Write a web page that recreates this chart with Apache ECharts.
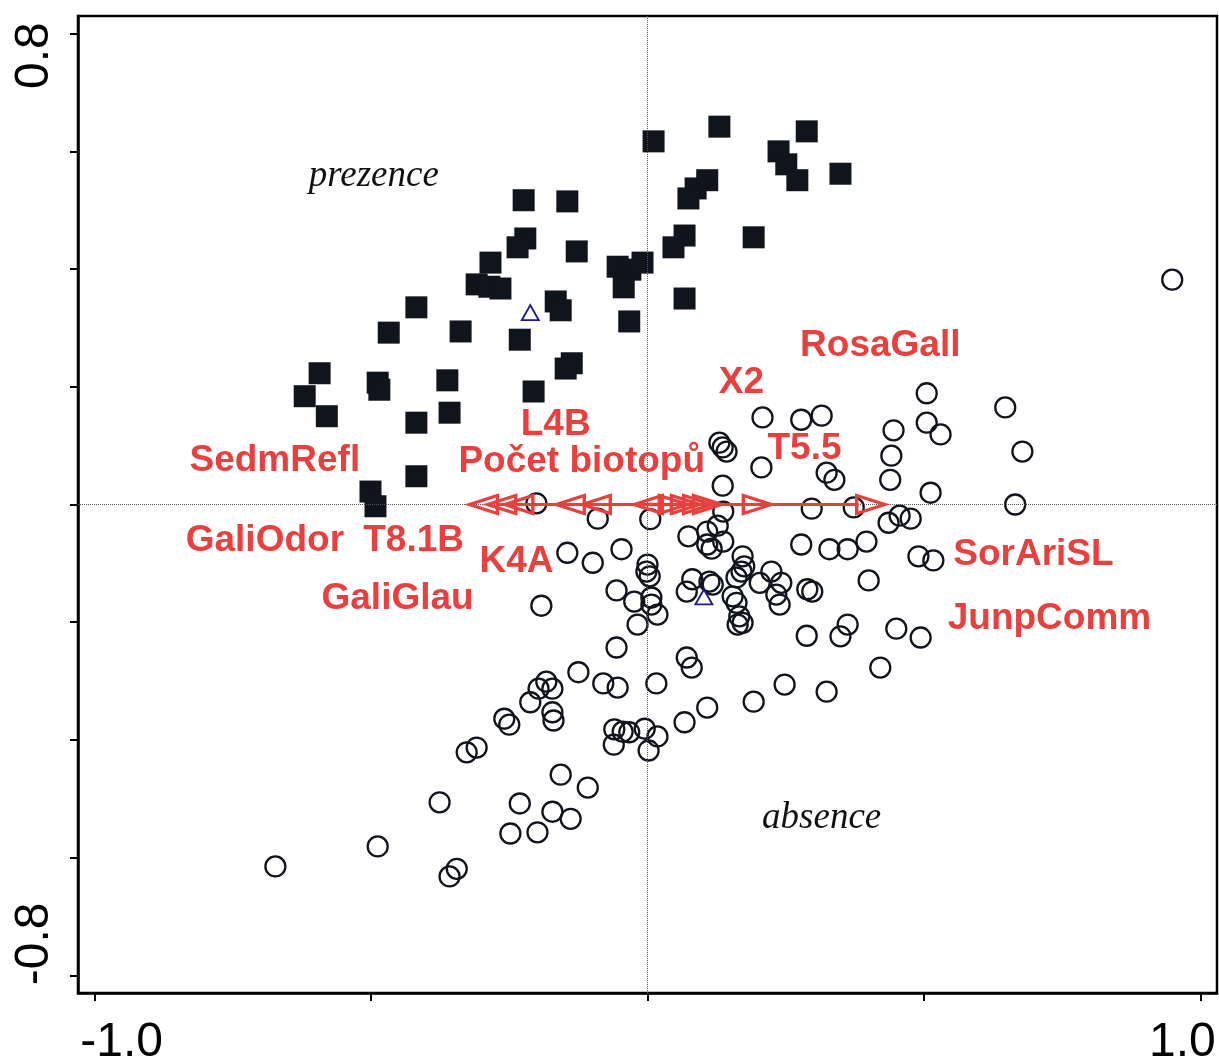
<!DOCTYPE html>
<html>
<head>
<meta charset="utf-8">
<script src="https://cdn.jsdelivr.net/npm/echarts@6/dist/echarts.min.js"></script>
<style>
html,body{margin:0;padding:0;background:#fff;}
#chart{width:1219px;height:1064px;}
</style>
</head>
<body>
<div id="chart"></div>
<script>
// ---- data (axis-1 / axis-2 scores) ----
const presenceX = [0.011,0.130,0.288,0.237,0.251,0.271,0.349,0.108,0.087,0.074,-0.224,-0.145,-0.221,-0.235,-0.128,-0.284,0.067,0.047,0.192,-0.054,-0.031,-0.009,-0.043,-0.309,-0.286,-0.266,0.067,-0.166,-0.157,-0.418,-0.338,-0.468,-0.231,-0.033,-0.593,-0.620,-0.580,-0.488,-0.485,-0.418,-0.418,-0.501,-0.492,-0.362,-0.358,-0.206,-0.137,-0.148];
const presenceY = [0.617,0.642,0.634,0.600,0.578,0.551,0.562,0.551,0.537,0.520,0.517,0.515,0.452,0.437,0.430,0.411,0.457,0.437,0.454,0.404,0.399,0.411,0.369,0.374,0.370,0.367,0.350,0.345,0.330,0.335,0.294,0.292,0.280,0.311,0.223,0.184,0.150,0.207,0.195,0.139,0.048,0.022,-0.003,0.211,0.156,0.192,0.240,0.231];

const absenceX = [0.949,0.505,0.647,0.315,0.278,0.208,0.445,0.505,0.530,0.678,0.441,0.324,0.338,0.439,0.512,0.297,0.373,0.665,0.436,0.456,0.476,0.278,0.329,0.362,0.396,0.490,0.517,0.289,0.298,0.400,0.362,0.349,0.450,0.494,0.288,0.421,0.324,0.248,0.192,0.108,0.067,
0.130,0.136,0.143,0.206,0.136,-0.201,0.137,-0.090,0.005,0.127,0.108,0.074,0.137,0.108,0.116,-0.047,-0.145,-0.099,0.000,-0.002,0.004,-0.056,-0.024,0.007,0.007,0.018,-0.018,0.071,0.081,0.112,0.118,0.154,0.161,0.172,0.175,0.170,0.203,0.224,0.242,0.233,0.239,0.161,0.166,0.172,0.163,-0.192,-0.056,0.071,0.080,
-0.125,-0.183,-0.172,-0.197,-0.212,-0.080,-0.054,0.016,-0.172,-0.170,-0.259,-0.250,-0.309,-0.327,-0.060,-0.045,-0.033,-0.005,0.018,-0.061,0.002,-0.157,-0.108,-0.376,-0.231,-0.172,-0.139,-0.248,-0.199,-0.345,-0.358,-0.488,-0.673];
const absenceY = [0.382,0.189,0.165,0.151,0.144,0.148,0.126,0.139,0.119,0.090,0.083,0.054,0.042,0.042,0.020,-0.007,-0.005,0.000,-0.031,-0.019,-0.024,-0.068,-0.076,-0.076,-0.063,-0.088,-0.095,-0.144,-0.148,-0.129,-0.204,-0.224,-0.211,-0.226,-0.223,-0.277,-0.318,-0.306,-0.335,-0.345,-0.370,
0.105,0.097,0.090,0.063,0.032,0.002,-0.012,-0.024,-0.025,-0.036,-0.046,-0.054,-0.063,-0.068,-0.075,-0.076,-0.082,-0.099,-0.102,-0.114,-0.122,-0.146,-0.165,-0.158,-0.170,-0.187,-0.204,-0.148,-0.127,-0.131,-0.136,-0.156,-0.124,-0.088,-0.105,-0.114,-0.133,-0.114,-0.133,-0.153,-0.170,-0.167,-0.190,-0.201,-0.204,-0.172,-0.243,-0.260,-0.277,
-0.285,-0.301,-0.313,-0.313,-0.336,-0.304,-0.311,-0.304,-0.353,-0.367,-0.364,-0.374,-0.413,-0.421,-0.382,-0.386,-0.387,-0.381,-0.394,-0.408,-0.418,-0.459,-0.481,-0.506,-0.508,-0.522,-0.534,-0.559,-0.557,-0.619,-0.632,-0.581,-0.615];

const centroidX = [-0.212, 0.102];
const centroidY = [0.326, -0.157];

const groupNames = ['prezence', 'absence'];
const groupX = [-0.495, 0.315];
const groupY = [0.558, -0.533];

const arrowX = [-0.322,-0.289,-0.258,-0.165,-0.118,-0.024,0.072,0.094,0.116,0.134,0.224,0.429];
const arrowY = [0,0,0,0,0,0,0,0,0,0,0,0];

const varNames = ['SedmRefl','GaliOdor','T8.1B','GaliGlau','K4A','L4B','Počet biotopů','X2','T5.5','RosaGall','SorAriSL','JunpComm'];
const varLabelX = [-0.674,-0.692,-0.423,-0.452,-0.237,-0.166,-0.119,0.170,0.284,0.421,0.698,0.727];
const varLabelY = [0.075,-0.061,-0.061,-0.161,-0.097,0.135,0.073,0.206,0.094,0.270,-0.085,-0.195];

const xTicks = [-1, -0.5, 0, 0.5, 1];
const yTicks = [-0.8, -0.6, -0.4, -0.2, 0, 0.2, 0.4, 0.6, 0.8];
const xTickLabels = [-1, 1];
const xTickText = ['-1.0', '1.0'];
const yTickLabels = [-0.8, 0.8];
const yTickText = ['-0.8', '0.8'];

// ---- chart ----
const RED = '#e8403f';
const INK = '#10141c';
const zip = (a, b) => a.map((v, i) => [v, b[i]]);

const chart = echarts.init(document.getElementById('chart'), null, {renderer: 'canvas'});

const option = {
  backgroundColor: '#fff',
  animation: false,
  grid: {left: 78, right: 2, top: 16, bottom: 71, containLabel: false, outerBoundsMode: 'none',
         show: true, borderColor: '#000', borderWidth: 2.5, backgroundColor: 'transparent'},
  xAxis: {
    type: 'value', min: -1.03, max: 1.03,
    splitLine: {show: false},
    axisLine: {show: true, onZero: false, lineStyle: {color: '#000', width: 2.5}},
    axisTick: {show: true, customValues: xTicks, length: 8, inside: false, lineStyle: {color: '#000', width: 2}},
    axisLabel: {
      customValues: xTickLabels, margin: 26,
      formatter: v => {
        const i = xTickLabels.indexOf(v);
        return i === 0 ? '{l|' + xTickText[0] + '}' : '{r|' + xTickText[1] + '}';
      },
      rich: {
        l: {fontFamily: 'Liberation Sans', fontSize: 48, lineHeight: 48, color: '#000', padding: [0, 0, 0, 54]},
        r: {fontFamily: 'Liberation Sans', fontSize: 48, lineHeight: 48, color: '#000', padding: [0, 36, 0, 0]}
      }
    }
  },
  yAxis: {
    type: 'value', min: -0.83, max: 0.83,
    splitLine: {show: false},
    axisLine: {show: true, onZero: false, lineStyle: {color: '#000', width: 2.5}},
    axisTick: {show: true, customValues: yTicks, length: 8, inside: false, lineStyle: {color: '#000', width: 2}},
    axisLabel: {
      customValues: yTickLabels, rotate: 90, margin: 19,
      formatter: v => {
        const i = yTickLabels.indexOf(v);
        return i === 0 ? '{b|' + yTickText[0] + '}' : '{t|' + yTickText[1] + '}';
      },
      rich: {
        b: {fontFamily: 'Liberation Sans', fontSize: 48, lineHeight: 48, color: '#000', padding: [0, 0, 0, 63]},
        t: {fontFamily: 'Liberation Sans', fontSize: 48, lineHeight: 48, color: '#000', padding: [0, 44, 0, 0]}
      }
    }
  },
  series: [
    {
      name: 'origin', type: 'scatter', data: [], z: 1, silent: true,
      markLine: {
        silent: true, symbol: ['none', 'none'], label: {show: false},
        lineStyle: {type: 'dotted', color: '#555', width: 1},
        data: [{xAxis: 0}, {yAxis: 0}]
      }
    },
    {
      name: 'absence', type: 'scatter', z: 3, symbol: 'circle', symbolSize: 20,
      data: zip(absenceX, absenceY),
      itemStyle: {color: 'rgba(0,0,0,0)', borderColor: INK, borderWidth: 2.3, opacity: 1}
    },
    {
      name: 'prezence', type: 'scatter', z: 4, symbol: 'rect', symbolSize: 22,
      data: zip(presenceX, presenceY),
      itemStyle: {color: INK, opacity: 1}
    },
    {
      name: 'centroids', type: 'scatter', z: 5, symbol: 'triangle', symbolSize: [17, 15],
      data: zip(centroidX, centroidY),
      itemStyle: {color: 'rgba(0,0,0,0)', borderColor: '#1a1a8c', borderWidth: 1.8, opacity: 1}
    },
    {
      name: 'arrows', type: 'custom', z: 6,
      data: zip(arrowX, arrowY),
      encode: {x: 0, y: 1},
      renderItem: (params, api) => {
        const o = api.coord([0, 0]);
        const t = api.coord([api.value(0), api.value(1)]);
        const dx = t[0] - o[0], dy = t[1] - o[1];
        const len = Math.hypot(dx, dy) || 1;
        const ux = dx / len, uy = dy / len;
        const hl = 28, hw = 9;
        const b = [t[0] - ux * hl, t[1] - uy * hl];
        const p1 = [b[0] - uy * hw, b[1] + ux * hw];
        const p2 = [b[0] + uy * hw, b[1] - ux * hw];
        return {
          type: 'group',
          children: [
            {type: 'line', shape: {x1: o[0], y1: o[1], x2: b[0], y2: b[1]}, style: {stroke: RED, lineWidth: 3.2}},
            {type: 'polygon', shape: {points: [t, p1, p2]}, style: {fill: null, stroke: RED, lineWidth: 3.4, lineJoin: 'miter'}}
          ]
        };
      }
    },
    {
      name: 'varLabels', type: 'scatter', z: 7, symbolSize: 0, silent: true,
      itemStyle: {opacity: 1},
      data: varNames.map((n, i) => ({name: n, value: [varLabelX[i], varLabelY[i]]})),
      label: {
        show: true, position: 'inside', formatter: '{b}', opacity: 1,
        fontFamily: 'Liberation Sans', fontWeight: 'bold', fontSize: 37, lineHeight: 37, color: RED
      }
    },
    {
      name: 'groupLabels', type: 'scatter', z: 7, symbolSize: 0, silent: true,
      itemStyle: {opacity: 1},
      data: groupNames.map((n, i) => ({name: n, value: [groupX[i], groupY[i]]})),
      label: {
        show: true, position: 'inside', formatter: '{b}', opacity: 1,
        fontFamily: 'Liberation Serif', fontStyle: 'italic', fontSize: 37, lineHeight: 37, color: '#111'
      }
    }
  ]
};
chart.setOption(option);
</script>
</body>
</html>
